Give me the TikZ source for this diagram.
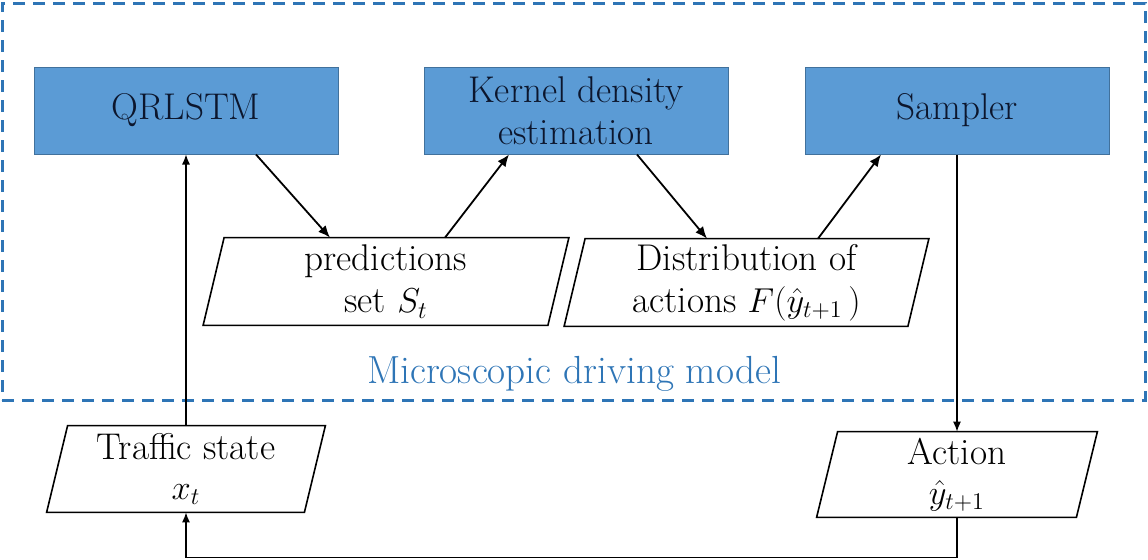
\documentclass[tikz,border=0pt]{standalone}
\usetikzlibrary{arrows.meta}
\definecolor{boxfill}{RGB}{91,155,213}
\definecolor{boxline}{RGB}{65,113,156}
\definecolor{frameblue}{RGB}{46,117,182}
\definecolor{boxtext}{RGB}{12,22,45}
\newcommand\slantframe[2]{\draw[paraline] ([xshift=#2]#1.north west) -- ([xshift=#2]#1.north east) -- ([xshift=-#2]#1.south east) -- ([xshift=-#2]#1.south west) -- cycle;}
\begin{document}
\begin{tikzpicture}[x=0.5pt,y=-0.5pt,
  txt/.style={font=\rmfamily\fontsize{18.6}{21}\selectfont},
  blockbox/.style={txt, rectangle, fill=boxfill, draw=boxline, line width=0.5pt,
    minimum width=152pt, minimum height=43.5pt, inner sep=0pt, align=center,
    text=boxtext},
  paranode/.style={txt, rectangle, minimum height=43.5pt, inner sep=0pt, align=center},
  flowarrow/.style={-{Latex[length=6pt,width=5pt]}, line width=0.9pt},
  thinarrow/.style={-{Latex[length=5pt,width=4pt]}, line width=0.6pt},
  paraline/.style={draw=black, line width=0.8pt},
  framebox/.style={rectangle, draw=frameblue, line width=1.5pt, dash pattern=on 6pt off 4pt,
    minimum width=571.5pt, minimum height=198.5pt, inner sep=0pt}
]
\useasboundingbox (0,0) rectangle (1148,559);
\node[framebox] (frame) at (573.5,201.5) {};
\node[font=\rmfamily\fontsize{19.6}{21}\selectfont, text=frameblue] (label) at (574,374) {Microscopic driving model};

\node[blockbox] (qr) at (186,110.5) {\raisebox{-1.5pt}{QRLSTM}};
\node[blockbox] (kde) at (576,110.5) {Kernel density\\estimation};
\node[blockbox] (smp) at (957,110.5) {\raisebox{-1.5pt}{Sampler}};

\node[paranode, minimum width=172pt] (pred) at (386,281.5) {predictions\\set $S_t$};
\slantframe{pred}{5.25pt}
\node[paranode, minimum width=171.5pt] (dist) at (746.5,282.5) {Distribution of\\actions $F(\hat{y}_{t+1}\,)$};
\slantframe{dist}{5.25pt}
\node[paranode, minimum width=128.5pt, minimum height=43pt] (traf) at (186,469) {\raisebox{-2pt}{Traffic state}\\[1pt]$x_t$};
\slantframe{traf}{5.25pt}
\node[paranode, minimum width=129.5pt, minimum height=42.5pt] (act) at (957,474.5) {\raisebox{-2pt}{Action}\\[1pt]$\hat{y}_{t+1}$};
\slantframe{act}{5.25pt}

\draw[flowarrow] ([xshift=35pt]qr.south) -- ([xshift=-28pt]pred.north);
\draw[flowarrow] ([xshift=29.5pt]pred.north) -- ([xshift=-33.5pt]kde.south);
\draw[flowarrow] ([xshift=30.5pt]kde.south) -- ([xshift=-19.75pt]dist.north);
\draw[flowarrow] ([xshift=35.75pt]dist.north) -- ([xshift=-38pt]smp.south);
\draw[thinarrow] (smp.south) -- (act.north);
\draw[thinarrow] (traf.north) -- (qr.south);
\draw[thinarrow] (act.south) -- ++(0,40) -| (traf.south);
\end{tikzpicture}
\end{document}
